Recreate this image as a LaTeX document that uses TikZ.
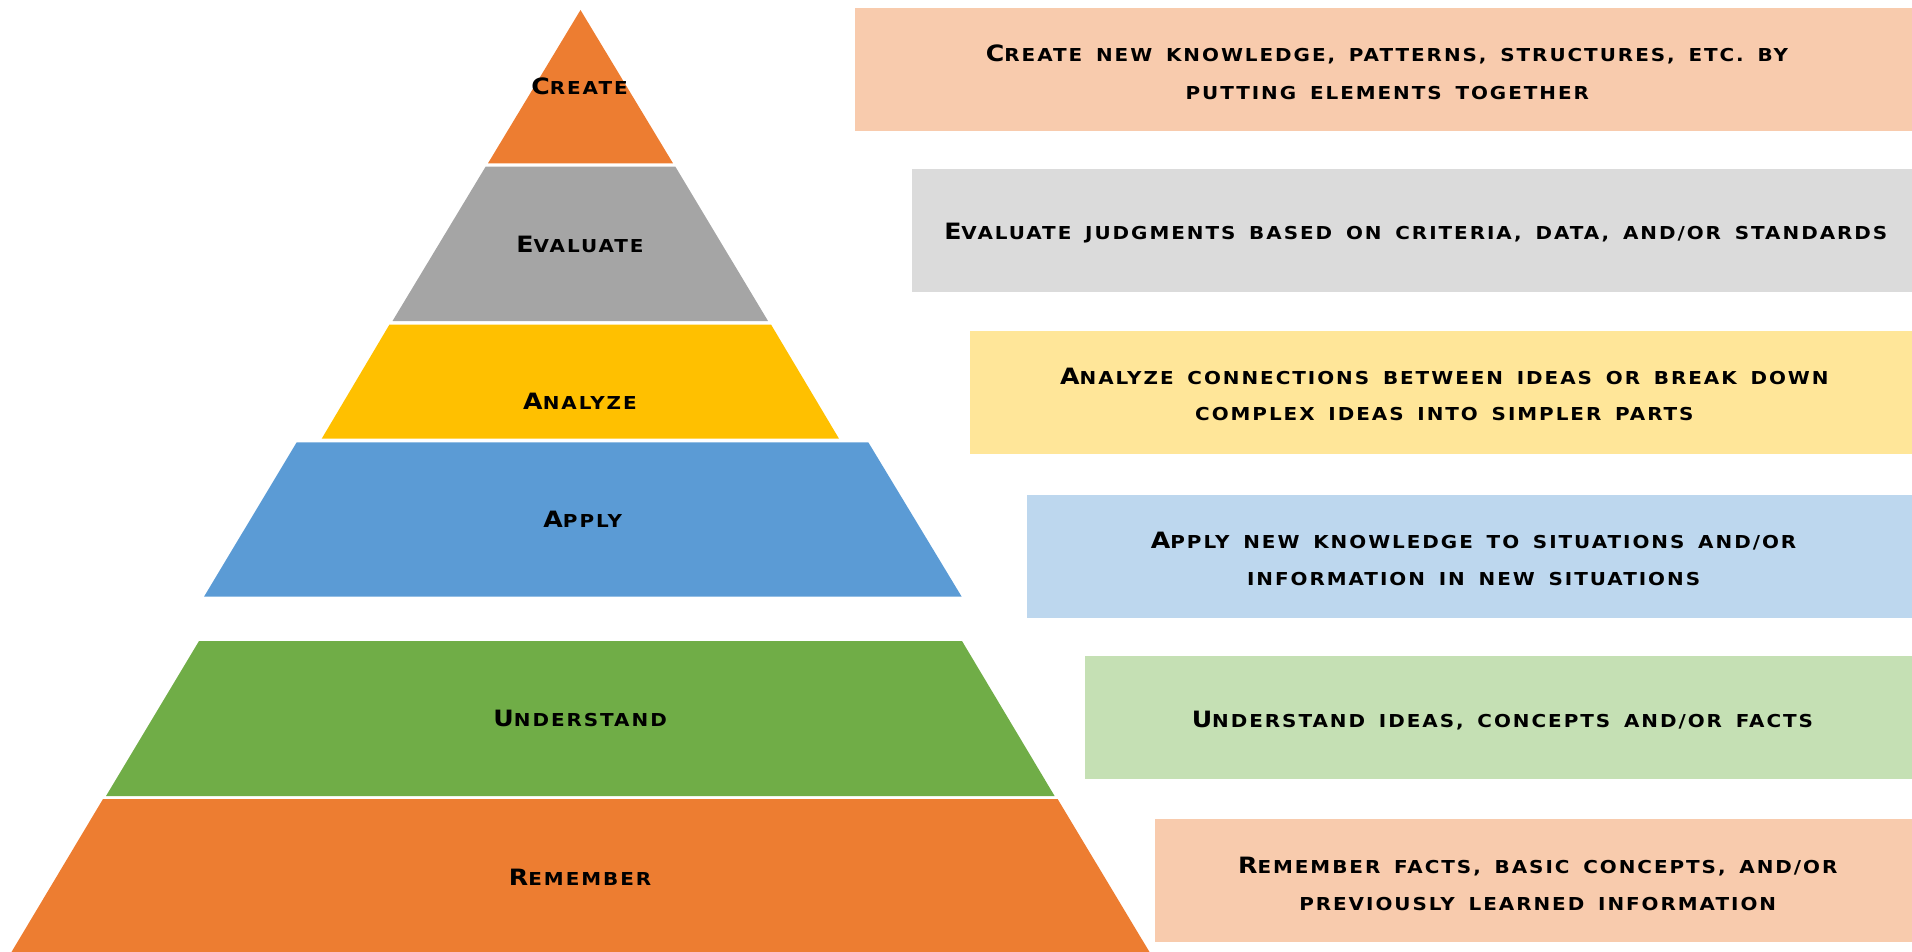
\documentclass[tikz,border=0pt]{standalone}
\usepackage{fontspec}
% wide, tracked caps face used for every label
\newfontfamily\scfont[FakeStretch=1.12,LetterSpace=11,WordSpace=1.55]{DejaVu Sans}
% full-height initial of a small-caps phrase
\newcommand\Ini[1]{{\fontsize{22.5}{27}\selectfont #1}}

\definecolor{lvorange}{HTML}{ED7D31}
\definecolor{lvgrey}{HTML}{A5A5A5}
\definecolor{lvyellow}{HTML}{FFC000}
\definecolor{lvblue}{HTML}{5B9BD5}
\definecolor{lvgreen}{HTML}{70AD47}
\definecolor{bxorange}{HTML}{F8CBAD}
\definecolor{bxgrey}{HTML}{DBDBDB}
\definecolor{bxyellow}{HTML}{FFE699}
\definecolor{bxblue}{HTML}{BDD7EE}
\definecolor{bxgreen}{HTML}{C5E0B4}

\begin{document}
\begin{tikzpicture}[x=1pt,y=-1pt,
  lbl/.style={anchor=base,inner sep=0pt,text=black,
              font=\scfont\bfseries\fontsize{17.8}{21}\selectfont}]
\useasboundingbox (0,0) rectangle (1912,952);

% ---- pyramid levels ----
\fill[lvorange] (580.5,10) -- (673,163.3) -- (488,163.3) -- cycle;
\fill[lvgrey]   (485.6,166.7) -- (675.4,166.7) -- (768,321) -- (392.5,321) -- cycle;
\fill[lvyellow] (389.5,324.5) -- (771,324.5) -- (839,438.7) -- (321.7,438.7) -- cycle;
\fill[lvblue]   (296.7,442.3) -- (868.3,442.3) -- (961.7,596.7) -- (204,596.7) -- cycle;
\fill[lvgreen]  (199,641) -- (962,641) -- (1054.6,796) -- (106,796) -- cycle;
\fill[lvorange] (103,799) -- (1057.6,799) -- (1149.5,952) -- (11.5,952) -- cycle;

\node[lbl] (lcreate) at (579.5,94.3)  {\Ini{C}REATE};
\node[lbl] (leval)   at (580,252.3)   {\Ini{E}VALUATE};
\node[lbl] (lanal)   at (580,409.5)   {\Ini{A}NALYZE};
\node[lbl] (lapply)  at (582.8,527.7) {\Ini{A}PPLY};
\node[lbl] (lunder)  at (580.1,726.7) {\Ini{U}NDERSTAND};
\node[lbl] (lremem)  at (580.1,885)   {\Ini{R}EMEMBER};

% ---- description panels ----
\fill[bxorange] (855,8.5)    rectangle (1912,131.5);
\fill[bxgrey]   (912,169.3)  rectangle (1912,292.3);
\fill[bxyellow] (970,331.3)  rectangle (1912,454.3);
\fill[bxblue]   (1026.5,495) rectangle (1912,617.5);
\fill[bxgreen]  (1085,656)   rectangle (1912,779);
\fill[bxorange] (1155,819.3) rectangle (1912,942.3);

\node[lbl] (dcreatea) at (1387,61.7)  {\Ini{C}REATE NEW KNOWLEDGE, PATTERNS, STRUCTURES, ETC. BY};
\node[lbl] (dcreateb) at (1387.3,99.3) {PUTTING ELEMENTS TOGETHER};
\node[lbl] (deval)    at (1415.8,240) {\Ini{E}VALUATE JUDGMENTS BASED ON CRITERIA, DATA, AND/OR STANDARDS};
\node[lbl] (danala)   at (1444.4,384) {\Ini{A}NALYZE CONNECTIONS BETWEEN IDEAS OR BREAK DOWN};
\node[lbl] (danalb)   at (1444.4,420.7) {COMPLEX IDEAS INTO SIMPLER PARTS};
\node[lbl] (dapplya)  at (1473.6,548) {\Ini{A}PPLY NEW KNOWLEDGE TO SITUATIONS AND/OR};
\node[lbl] (dapplyb)  at (1473.6,585.5) {INFORMATION IN NEW SITUATIONS};
\node[lbl] (dunder)   at (1502.4,727.7) {\Ini{U}NDERSTAND IDEAS, CONCEPTS AND/OR FACTS};
\node[lbl] (dremema)  at (1537.8,873.3) {\Ini{R}EMEMBER FACTS, BASIC CONCEPTS, AND/OR};
\node[lbl] (drememb)  at (1537.7,910) {PREVIOUSLY LEARNED INFORMATION};
\end{tikzpicture}
\end{document}
